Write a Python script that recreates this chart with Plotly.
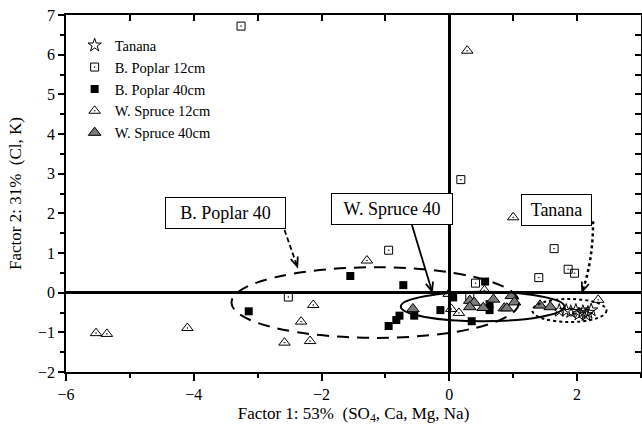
import numpy as np
import plotly.graph_objects as go

# ---------------- data ----------------
tanana_x = [1.72, 1.83, 1.90, 1.98, 2.09, 2.17, 2.22, 2.03, 2.14]
tanana_y = [-0.45, -0.45, -0.48, -0.45, -0.48, -0.50, -0.44, -0.54, -0.56]

bp12_x = [-3.26, 0.18, -0.95, -2.52, 1.64, 1.86, 1.96, 1.40, 0.41, 0.32]
bp12_y = [6.72, 2.85, 1.07, -0.11, 1.11, 0.59, 0.49, 0.38, 0.24, -0.12]

bp40_x = [-1.55, -0.72, -3.14, -0.95, -0.78, -0.83, -0.55, -0.14, 0.06, 0.35, 0.56, 0.63, 0.63]
bp40_y = [0.42, 0.19, -0.47, -0.84, -0.58, -0.69, -0.58, -0.44, -0.12, -0.72, 0.28, -0.29, -0.44]

ws12_x = [0.28, 1.00, -5.53, -5.36, -4.10, -2.32, -2.58, -2.18, -2.13, -1.29, -0.01, 0.55, 0.03, 0.15, 2.33]
ws12_y = [6.10, 1.90, -1.02, -1.04, -0.89, -0.73, -1.26, -1.22, -0.31, 0.81, -0.03, 0.06, -0.41, -0.51, -0.18]

ws40_x = [-0.57, 0.32, 0.39, 0.32, 0.53, 0.69, 0.86, 0.90, 0.97, 1.02, 1.42, 1.58]
ws40_y = [-0.41, -0.20, -0.25, -0.36, -0.38, -0.17, -0.39, -0.39, -0.08, -0.24, -0.32, -0.36]

x_range = [-6, 3]
y_range = [-2, 7]

# ellipses: (x0, x1, y0, y1)
ell_poplar = (-3.41, 1.09, -1.14, 0.64)
ell_spruce = (-0.76, 1.80, -0.72, 0.02)
ell_tanana = (1.30, 2.46, -0.74, -0.16)

# callout labels (text, x, y, box width)
lab_poplar = ("B. Poplar 40", -3.51, 2.0, 111)
lab_spruce = ("W. Spruce 40", -0.89, 2.12, 112)
lab_tanana = ("Tanana", 1.68, 2.08, 61)

# arrows: start, end
arr_poplar = ((-2.58, 1.58), (-2.38, 0.66))
arr_spruce = ((-0.59, 1.73), (-0.27, 0.03))
arr_tanana = ((2.25, 1.80), (2.25, 0.8), (2.08, 0.03))  # start, control, end

# ---------------- figure ----------------
W, H = 642, 431
ML, MR, MT, MB = 66, 1, 15, 59
PW, PH = W - ML - MR, H - MT - MB
sx = PW / (x_range[1] - x_range[0])
sy = PH / (y_range[1] - y_range[0])

FONT = "Liberation Serif"
fig = go.Figure()

fig.add_trace(go.Scatter(x=tanana_x, y=tanana_y, mode="markers", name="Tanana",
                         marker=dict(symbol="star-open", size=10, color="black", line=dict(width=1))))
fig.add_trace(go.Scatter(x=bp12_x, y=bp12_y, mode="markers", name="B. Poplar 12cm",
                         marker=dict(symbol="square-open-dot", size=8, color="black", line=dict(width=1))))
fig.add_trace(go.Scatter(x=bp40_x, y=bp40_y, mode="markers", name="B. Poplar 40cm",
                         marker=dict(symbol="square", size=8, color="black", line=dict(width=0))))
fig.add_trace(go.Scatter(x=ws12_x, y=ws12_y, mode="markers", name="W. Spruce 12cm",
                         marker=dict(symbol="triangle-up-open-dot", size=10, color="black", line=dict(width=1))))
fig.add_trace(go.Scatter(x=ws40_x, y=ws40_y, mode="markers", name="W. Spruce 40cm",
                         marker=dict(symbol="triangle-up", size=11, color="#7a7a7a", line=dict(width=1, color="black"))))
# invisible trace for mirrored axes
fig.add_trace(go.Scatter(x=[x_range[0]], y=[y_range[0]], xaxis="x2", yaxis="y2", mode="markers",
                         marker=dict(opacity=0), showlegend=False, hoverinfo="skip"))

shapes = []
for e, dash in [(ell_poplar, "12px,8px"), (ell_spruce, "solid"), (ell_tanana, "dot")]:
    shapes.append(dict(type="circle", xref="x", yref="y", x0=e[0], x1=e[1], y0=e[2], y1=e[3],
                       line=dict(color="black", width=2, dash=dash)))


def head(start, end, length=10, ang=22):
    dx = (end[0] - start[0]) * sx
    dy = -(end[1] - start[1]) * sy
    n = np.hypot(dx, dy)
    ux, uy = dx / n, dy / n
    pts = []
    for s in (1, -1):
        a = np.deg2rad(ang * s)
        bx = -(ux * np.cos(a) - uy * np.sin(a)) * length
        by = -(ux * np.sin(a) + uy * np.cos(a)) * length
        pts.append((end[0] + bx / sx, end[1] - by / sy))
    return "M {} {} L {} {} L {} {}".format(pts[0][0], pts[0][1], end[0], end[1], pts[1][0], pts[1][1])


# poplar dashed arrow
shapes.append(dict(type="line", xref="x", yref="y", x0=arr_poplar[0][0], y0=arr_poplar[0][1],
                   x1=arr_poplar[1][0], y1=arr_poplar[1][1], line=dict(color="black", width=1.8, dash="5px,3px")))
shapes.append(dict(type="path", xref="x", yref="y", path=head(*arr_poplar), line=dict(color="black", width=1.8)))
# spruce solid arrow
shapes.append(dict(type="line", xref="x", yref="y", x0=arr_spruce[0][0], y0=arr_spruce[0][1],
                   x1=arr_spruce[1][0], y1=arr_spruce[1][1], line=dict(color="black", width=1.8)))
shapes.append(dict(type="path", xref="x", yref="y", path=head(*arr_spruce), line=dict(color="black", width=1.8)))
# tanana dotted curved arrow
s0, c0, e0 = arr_tanana
shapes.append(dict(type="path", xref="x", yref="y",
                   path="M {} {} Q {} {} {} {}".format(s0[0], s0[1], c0[0], c0[1], e0[0], e0[1]),
                   line=dict(color="black", width=2.5, dash="dot")))
shapes.append(dict(type="path", xref="x", yref="y", path=head(c0, e0), line=dict(color="black", width=1.8)))

annotations = []
for t, x, y, w in [lab_poplar, lab_spruce, lab_tanana]:
    annotations.append(dict(text=t, x=x, y=y, xref="x", yref="y", showarrow=False,
                            width=w, height=22, align="center",
                            font=dict(family=FONT, size=18, color="black"),
                            bordercolor="black", borderwidth=1, borderpad=4, bgcolor="white"))

axis_common = dict(showgrid=False, showline=True, linecolor="black", linewidth=1.5,
                   tickcolor="black", tickwidth=1.5, automargin=False,
                   tickfont=dict(family=FONT, size=16, color="black"))

fig.update_layout(
    width=W, height=H,
    margin=dict(l=ML, r=MR, t=MT, b=MB),
    paper_bgcolor="white", plot_bgcolor="white",
    font=dict(family=FONT, color="black"),
    shapes=shapes, annotations=annotations,
    legend=dict(x=0.015, y=0.96, xanchor="left", yanchor="top", bgcolor="rgba(0,0,0,0)",
                font=dict(family=FONT, size=14.5, color="black"), itemwidth=30, tracegroupgap=0),
    xaxis=dict(range=x_range, dtick=2, tick0=0, ticks="outside", ticklen=7,
               minor=dict(dtick=1, ticks="outside", ticklen=4, tickcolor="black", tickwidth=1.5),
               zeroline=True, zerolinecolor="black", zerolinewidth=2.5,
               title=dict(text="Factor 1: 53%  (SO<sub>4</sub>, Ca, Mg, Na)",
                          font=dict(family=FONT, size=17, color="black"), standoff=5),
               **axis_common),
    yaxis=dict(range=y_range, dtick=1, tick0=0, ticks="outside", ticklen=6,
               minor=dict(dtick=0.5, ticks="outside", ticklen=4, tickcolor="black", tickwidth=1.5),
               zeroline=True, zerolinecolor="black", zerolinewidth=2.5,
               title=dict(text="Factor 2: 31%  (Cl, K)",
                          font=dict(family=FONT, size=17, color="black"), standoff=12),
               **axis_common),
    xaxis2=dict(range=x_range, overlaying="x", side="top", dtick=1, tick0=0, ticks="inside", ticklen=6,
                showticklabels=False, zeroline=False, **axis_common),
    yaxis2=dict(range=y_range, overlaying="y", side="right", dtick=0.5, tick0=0, ticks="inside", ticklen=6,
                showticklabels=False, zeroline=False, **axis_common),
)

fig.write_html("out.html")
